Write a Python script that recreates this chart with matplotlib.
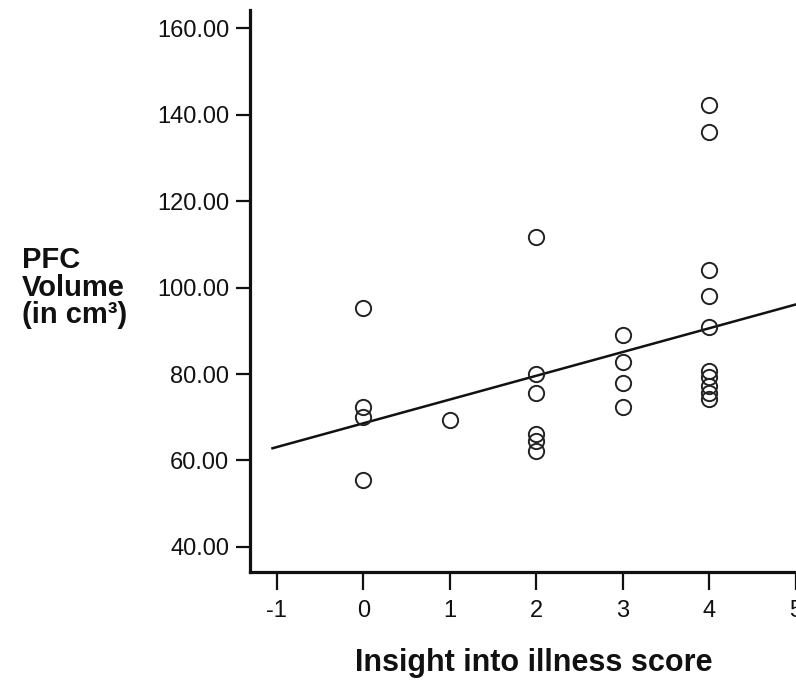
import numpy as np
import matplotlib
matplotlib.use("Agg")
import matplotlib.pyplot as plt

plt.rcParams['font.family'] = ['Liberation Sans', 'DejaVu Sans']

# Insight score (x) and PFC volume (y) per subject
insight = [0, 0, 0, 0,
           1,
           2, 2, 2, 2, 2, 2,
           3, 3, 3, 3,
           4, 4, 4, 4, 4, 4, 4, 4, 4, 4]
pfc_volume = [95.3, 72.4, 70.1, 55.5,
              69.4,
              111.6, 80.0, 75.6, 66.2, 64.4, 62.3,
              89.0, 82.8, 77.9, 72.3,
              142.2, 136.0, 104.0, 98.0, 90.9, 80.8, 79.2, 77.3, 75.6, 74.2]

# fitted line as drawn in the chart
fit_intercept = 68.6
fit_slope = 5.5
fit_range = [-1.05, 5.0]

x_ticks = [-1, 0, 1, 2, 3, 4, 5]
y_ticks = [40, 60, 80, 100, 120, 140, 160]

fig = plt.figure(figsize=(7.96, 6.85), dpi=100)
ax = fig.add_axes([250 / 796, 113 / 685, 546 / 796, 562 / 685])

ax.plot(insight, pfc_volume, linestyle='none', marker='o', ms=11,
        mfc='none', mec='#222222', mew=1.4, zorder=3)

fx = np.array(fit_range)
ax.plot(fx, fit_intercept + fit_slope * fx, color='#111111', lw=1.8, zorder=2)

ax.set_xlim(-1.31, 5.0)
ax.set_ylim(34.2, 164.2)
ax.set_xticks(x_ticks)
ax.set_xticklabels([str(t) for t in x_ticks])
ax.set_yticks(y_ticks)
ax.set_yticklabels([f"{t:.2f}" for t in y_ticks])

for side in ['top', 'right']:
    ax.spines[side].set_visible(False)
for side in ['left', 'bottom']:
    ax.spines[side].set_linewidth(2.3)
    ax.spines[side].set_color('#111111')

ax.tick_params(axis='y', direction='out', length=10, width=1.6, pad=5,
               labelsize=17, colors='#111111')
ax.tick_params(axis='x', direction='out', length=13, width=1.6, pad=7,
               labelsize=17, colors='#111111')
for lbl in ax.get_xticklabels() + ax.get_yticklabels():
    lbl.set_clip_on(False)

fig.text(534 / 796, 1 - 663 / 685, 'Insight into illness score', fontsize=22,
         fontweight='bold', ha='center', va='center', color='#111111')

ylab = ['PFC', 'Volume', '(in cm³)']
for i, s in enumerate(ylab):
    fig.text(22 / 796, 1 - (260 + 27.5 * i) / 685, s, fontsize=21,
             fontweight='bold', ha='left', va='center', color='#111111')

fig.savefig('out.png', dpi=100)
